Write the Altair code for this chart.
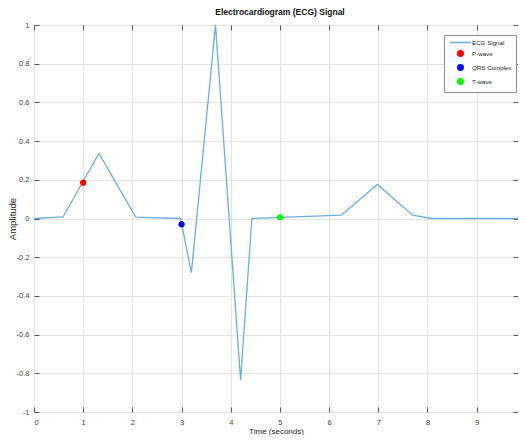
import altair as alt
import pandas as pd

# ECG signal (time in seconds, amplitude)
sig_t = [0, 0.59, 1.32, 2.07, 2.98, 3.2, 3.69, 4.2, 4.43, 6.25, 6.98, 7.7, 8.08, 10]
sig_v = [0, 0.008, 0.336, 0.007, 0.0, -0.28, 1.0, -0.835, 0.0, 0.017, 0.176, 0.017, 0.0, 0.0]

# Marked waves
marker_names = ["P-wave", "QRS Complex", "T-wave"]
marker_t = [1, 3, 5]
marker_v = [0.185, -0.03, 0.006]

series_names = ["ECG Signal", "P-wave", "QRS Complex", "T-wave"]
series_colors = ["#6aaee0", "#ff0000", "#0000ff", "#00ff00"]
series_shapes = ["M-3.8,0H3.8", "circle", "circle", "circle"]

x_ticks = list(range(0, 11))
y_ticks = [-1, -0.8, -0.6, -0.4, -0.2, 0, 0.2, 0.4, 0.6, 0.8, 1]

sig = pd.DataFrame({"t": sig_t, "v": sig_v, "series": ["ECG Signal"] * len(sig_t)})
marks = pd.DataFrame({"t": marker_t, "v": marker_v, "series": marker_names})

FONT = "Liberation Sans Narrow, Arial Narrow, Liberation Sans, Arial, sans-serif"
LBL = "replace(format(datum.value, '~g'), '\u2212', '-')"

# the reference view is cropped just before t = 10 at the right edge
xs = alt.Scale(domain=[0, 9.84], nice=False, zero=False)
ys = alt.Scale(domain=[-1, 1], nice=False, zero=False)

col_scale = alt.Scale(domain=series_names, range=series_colors)
shape_scale = alt.Scale(domain=series_names, range=series_shapes)

legend = alt.Legend(
    title=None, orient="none", legendX=410, legendY=10,
    fillColor="white", strokeColor="#8a8a8a", padding=4,
    labelFont=FONT, labelFontSize=6.2, labelColor="#222",
    symbolSize=30, symbolStrokeWidth=1.5, rowPadding=1,
    symbolOffset=9, labelOffset=8,
)

x_bottom = alt.Axis(values=x_ticks, title="Time (seconds)", labelExpr=LBL,
                    offset=-5, tickSize=5, domain=False, labelPadding=6,
                    titlePadding=2, grid=True)
y_left = alt.Axis(values=y_ticks, title="Amplitude", labelExpr=LBL,
                  offset=-5, tickSize=5, domain=False, labelPadding=5,
                  titleX=-22, grid=True, titleFontSize=9.5)

line = alt.Chart(sig).mark_line(strokeWidth=1.3, clip=True).encode(
    x=alt.X("t:Q", scale=xs, axis=x_bottom),
    y=alt.Y("v:Q", scale=ys, axis=y_left),
    color=alt.Color("series:N", scale=col_scale, legend=legend),
)

pts = alt.Chart(marks).mark_point(filled=True, opacity=1, strokeWidth=1, size=30).encode(
    x=alt.X("t:Q", scale=xs, axis=None),
    y=alt.Y("v:Q", scale=ys, axis=None),
    color=alt.Color("series:N", scale=col_scale, legend=legend),
    stroke=alt.Stroke("series:N", scale=col_scale, legend=legend),
    shape=alt.Shape("series:N", scale=shape_scale, legend=legend),
)

frame = alt.Chart(sig).mark_point(opacity=0, clip=True).encode(
    x=alt.X("t:Q", scale=xs, axis=alt.Axis(orient="top", values=x_ticks, labels=False,
                                             title=None, grid=False, domain=False,
                                             offset=-5, tickSize=5)),
    y=alt.Y("v:Q", scale=ys, axis=alt.Axis(orient="right", values=y_ticks, labels=False,
                                             title=None, grid=False, domain=False,
                                             offset=-5, tickSize=5)),
)

chart = (
    alt.layer(line, pts, frame)
    .resolve_axis(x="independent", y="independent")
    .properties(
        width=484, height=387,
        autosize=alt.AutoSizeParams(type="none"),
        padding={"left": 26, "top": 17, "right": 0, "bottom": 23},
        title=alt.Title("Electrocardiogram (ECG) Signal", font=FONT, fontSize=8.5,
                        fontWeight="bold", color="#111", offset=5, dx=4),
    )
    .configure_view(stroke="#7a7a7a", strokeWidth=1)
    .configure_axis(
        labelFont=FONT, labelFontSize=7.5, labelColor="#444",
        titleFont=FONT, titleFontSize=8, titleColor="#222", titleFontWeight="normal",
        tickColor="#555", tickWidth=1, gridColor="#e3e3e3", gridWidth=1,
    )
)

chart.save("out.html", embed_options={"renderer": "svg", "actions": False})
